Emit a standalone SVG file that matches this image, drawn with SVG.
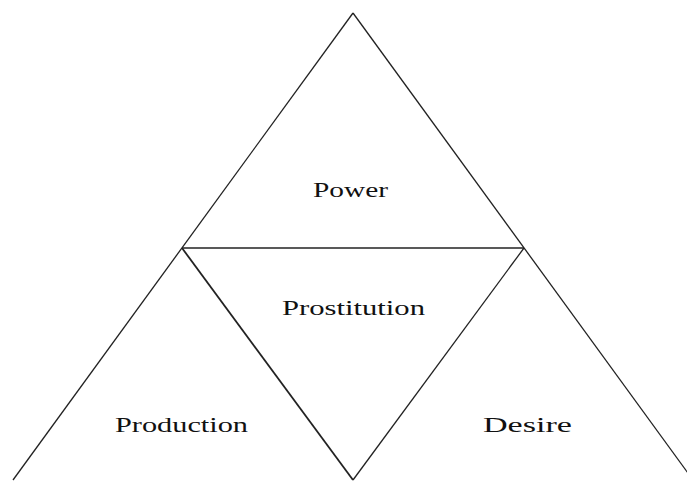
<svg xmlns="http://www.w3.org/2000/svg" width="687" height="481" viewBox="0 0 687 481">
<style>
.l{stroke:#222;stroke-width:1.3;fill:none}
.t{font-family:"Liberation Serif",serif;font-size:21px;fill:#111}
</style>
<rect width="687" height="481" fill="#fff"/>
<g id="connectors">
<line class="l" x1="353" y1="13" x2="13" y2="480"/>
<line class="l" x1="353" y1="13" x2="693" y2="480"/>
<line class="l" x1="182" y1="248" x2="524" y2="248"/>
<line class="l" x1="182" y1="248" x2="353" y2="480" style="stroke-width:1.8"/>
<line class="l" x1="524" y1="248" x2="353" y2="480"/>
</g>
<g id="power"><text class="t" x="313" y="197" textLength="75" lengthAdjust="spacingAndGlyphs">Power</text></g>
<g id="prostitution"><text class="t" x="282" y="315" textLength="143" lengthAdjust="spacingAndGlyphs">Prostitution</text></g>
<g id="production"><text class="t" x="115" y="432" textLength="133" lengthAdjust="spacingAndGlyphs">Production</text></g>
<g id="desire"><text class="t" x="483" y="432" textLength="89" lengthAdjust="spacingAndGlyphs">Desire</text></g>
</svg>
